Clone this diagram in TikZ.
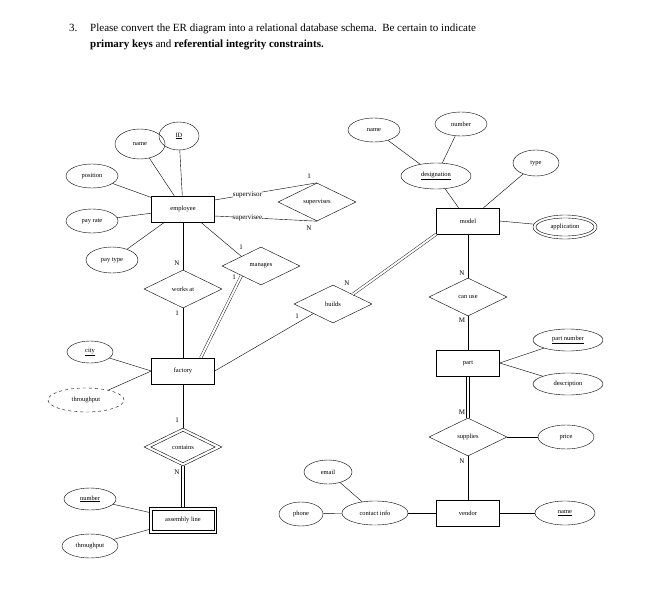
\documentclass[tikz,border=0pt]{standalone}
\usepackage{fontspec}
\setmainfont{Liberation Serif}
\usetikzlibrary{shapes.geometric,shapes.misc,calc}
\begin{document}
\begin{tikzpicture}[x=1pt,y=-1pt,
 ent/.style={draw,minimum width=63pt,minimum height=26pt,inner sep=0pt,font=\fontsize{6.5}{7}\selectfont},
 att/.style={draw,ellipse,inner sep=0pt,font=\fontsize{6.5}{7}\selectfont},
 rel/.style={draw,diamond,aspect=2.05,minimum width=78pt,minimum height=38pt,inner sep=0pt,font=\fontsize{6.5}{7}\selectfont},
 lab/.style={font=\fontsize{7}{8}\selectfont,inner sep=0pt},
 dbl/.style={double,double distance=2pt}]
\useasboundingbox (0,0) rectangle (664,591);
\node[anchor=north west,inner sep=0pt,font=\fontsize{11}{16}\selectfont] (q) at (69,24) {3.};
\node[anchor=north west,inner sep=0pt,text width=516pt,align=justify,font=\fontsize{11}{16}\selectfont] (t) at (90,24) {Please convert the ER diagram into a relational database schema.\ \ Be certain to indicate\\ \textbf{primary keys} and \textbf{referential integrity constraints.}};
% entities
\node[ent] (emp) at (183,209) {employee};
\node[ent] (fac) at (183,371) {factory};
\node[ent,minimum width=67pt] (asm) at (183,520) {assembly line};
\draw ($(asm.south west)+(3,-3)$) rectangle ($(asm.north east)+(-3,3)$);
\node[ent] (mod) at (468,221) {model};
\node[ent] (part) at (468,363) {part};
\node[ent] (ven) at (468,513) {vendor};
% attributes
\node[att,minimum width=50pt,minimum height=30pt] (ename) at (140,144) {name};
\node[att,minimum width=40pt,minimum height=28pt] (id) at (179,136) {\underline{ID}};
\node[att,minimum width=52pt,minimum height=24pt] (pos) at (92,176) {position};
\node[att,minimum width=52pt,minimum height=24pt] (pr) at (92,221) {pay rate};
\node[att,minimum width=52pt,minimum height=26pt] (pt) at (112,260) {pay type};
\node[att,minimum width=46pt,minimum height=22pt] (city) at (90,352) {\underline{city}};
\node[att,dashed,minimum width=76pt,minimum height=24pt] (thr) at (86,400) {throughput};
\node[att,minimum width=52pt,minimum height=22pt] (num) at (90,499) {\underline{number}};
\node[att,minimum width=56pt,minimum height=24pt] (thr2) at (90,546) {throughput};
\node[att,minimum width=70pt,minimum height=26pt] (des) at (436,176) {\underline{designation}};
\node[att,minimum width=52pt,minimum height=24pt] (dname) at (374,130) {name};
\node[att,minimum width=52pt,minimum height=24pt] (dnum) at (461,124) {number};
\node[att,minimum width=46pt,minimum height=26pt] (type) at (536,163) {type};
\node[att,minimum width=64pt,minimum height=24pt] (app) at (565,227) {application};
\draw (app.center) ellipse [x radius=29pt,y radius=9pt];
\node[att,minimum width=70pt,minimum height=22pt] (pnum) at (568,340) {\underline{part number}};
\node[att,minimum width=70pt,minimum height=22pt] (desc) at (568,384) {description};
\node[att,minimum width=56pt,minimum height=24pt] (price) at (566,437) {price};
\node[att,minimum width=60pt,minimum height=24pt] (vname) at (565,513) {\underline{name}};
\node[att,minimum width=66pt,minimum height=24pt] (ci) at (375,513) {contact info};
\node[att,minimum width=48pt,minimum height=24pt] (email) at (328,472) {email};
\node[att,minimum width=44pt,minimum height=24pt] (phone) at (301,514) {phone};
% relationships
\node[rel] (sup) at (317,202) {supervises};
\node[rel] (man) at (261,266) {manages};
\node[rel] (works) at (183,289) {works at};
\node[rel] (bui) at (333,304) {builds};
\node[rel] (con) at (183,447) {contains};
\draw ($(con.north)+(0,3.5)$) -- ($(con.east)+(-7,0)$) -- ($(con.south)+(0,-3.5)$) -- ($(con.west)+(7,0)$) -- cycle;
\node[rel] (can) at (468,297) {can use};
\node[rel] (supp) at (468,437) {supplies};
% attribute lines
\foreach \a in {ename,id,pos,pr,pt} \draw (\a) -- (emp);
\draw (city) -- (fac.west); \draw (thr) -- (fac.west);
\draw (num) -- (asm); \draw (thr2) -- (asm);
\draw (dname) -- (des); \draw (dnum) -- (des); \draw (des) -- (mod);
\draw (type) -- (mod); \draw (app) -- (mod.east);
\draw (pnum) -- (part.east); \draw (desc) -- (part.east);
\draw (price) -- (supp.east); \draw (vname) -- (ven.east);
\draw (ci) -- (ven.west); \draw (email) -- (ci); \draw (phone) -- (ci);
% relationship lines
\draw (emp.east |- 0,200) -- node[lab,fill=white,pos=0.32]{supervisor} (sup.north);
\draw (emp.east |- 0,216) -- node[lab,fill=white,pos=0.32]{supervisee} (sup.south);
\node[lab] (l1) at (309,176) {1}; \node[lab] (l2) at (309,228) {N};
\coordinate (e1) at ($(emp.south east)+(-14,0)$);
\draw (e1) -- ($(man.north)!0.5!(man.west)$);
\node[lab] (l3) at (241,247) {1};
\draw[dbl] ($(man.south)!0.5!(man.west)$) -- ($(fac.north east)+(-14,0)$);
\node[lab] (l4) at (234,277) {1};
\draw (emp) -- (works); \draw (works) -- (fac);
\node[lab] (l5) at (177,263) {N}; \node[lab] (l6) at (177,313) {1};
\draw (fac.east) -- ($(bui.south)!0.5!(bui.west)$);
\node[lab] (l7) at (297,316) {1};
\draw[dbl] ($(bui.north)!0.5!(bui.east)$) -- (mod.south west);
\node[lab] (l8) at (347,283) {N};
\draw (fac) -- (con);
\draw ($(con.south)+(-1.5,0)$) -- ($(asm.north)+(-1.5,0)$);
\draw ($(con.south)+(1.5,0)$) -- ($(asm.north)+(1.5,0)$);
\node[lab] (l9) at (177,420) {1}; \node[lab] (l10) at (177,472) {N};
\draw (mod) -- (can); \draw (can) -- (part);
\node[lab] (l11) at (462,273) {N}; \node[lab] (l12) at (462,320) {M};
\draw ($(part.south)+(-1.5,0)$) -- ($(supp.north)+(-1.5,0)$);
\draw ($(part.south)+(1.5,0)$) -- ($(supp.north)+(1.5,0)$);
\draw (supp) -- (ven);
\node[lab] (l13) at (462,412) {M}; \node[lab] (l14) at (462,461) {N};
\end{tikzpicture}
\end{document}
